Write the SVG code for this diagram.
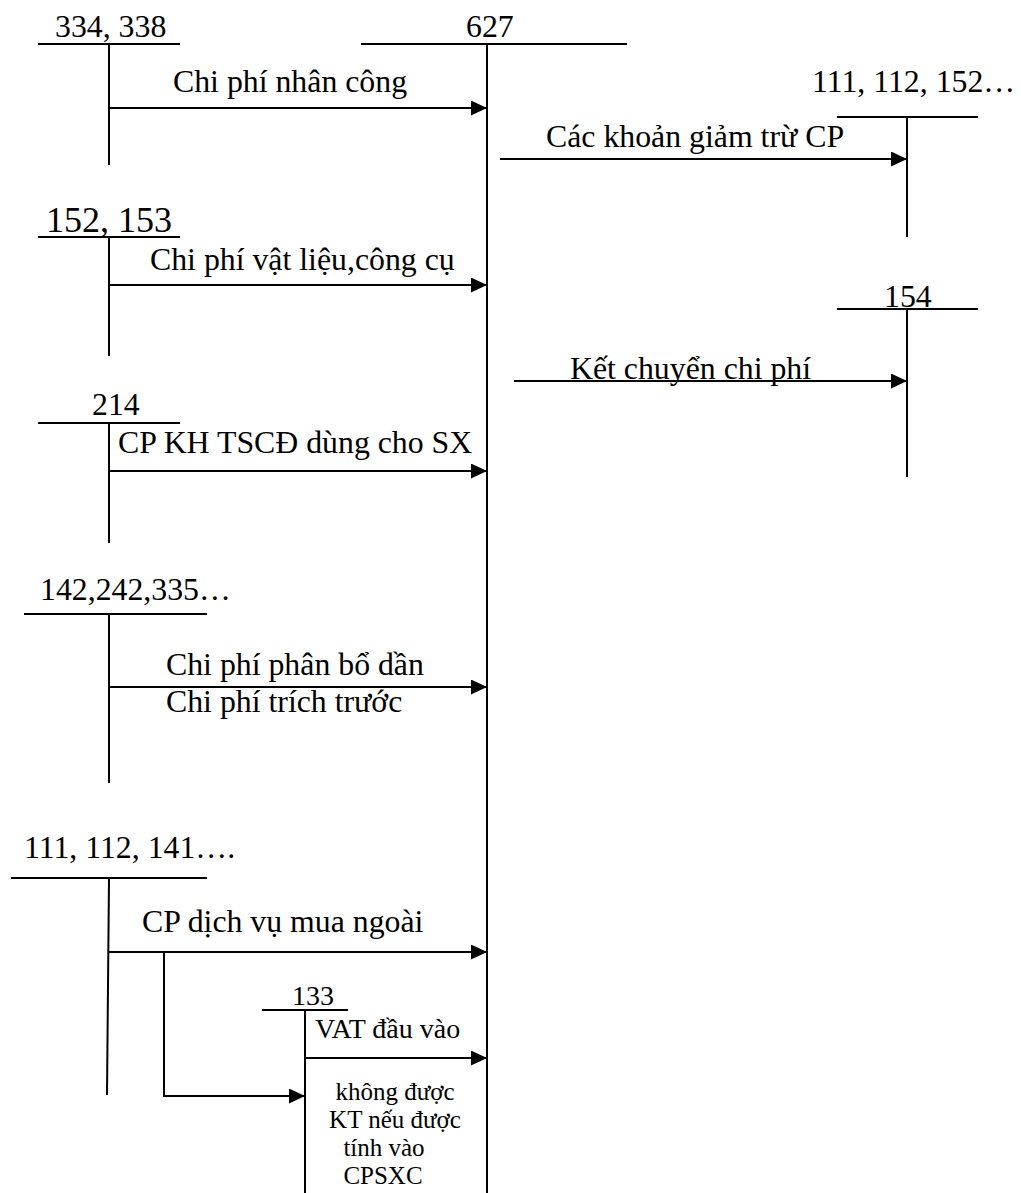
<svg xmlns="http://www.w3.org/2000/svg" width="1021" height="1193" viewBox="0 0 1021 1193">
<defs>
<style>
text{font-family:"Liberation Serif","Times New Roman",serif;font-size:31.8px;fill:#000}
.sm{font-size:28px}
.blk{font-size:25px}
.big{font-size:36px}
line,polyline{stroke:#000;stroke-width:2;fill:none}
</style>
<marker id="ah" viewBox="0 0 16 15" refX="16" refY="7.5" markerWidth="16" markerHeight="15" markerUnits="userSpaceOnUse" orient="auto">
<path d="M0,0 L16,7.5 L0,15 z" fill="#000"/>
</marker>
</defs>
<rect width="1021" height="1193" fill="#fff"/>

<g id="acc-334">
<text x="55" y="37">334, 338</text>
<line x1="38" y1="44" x2="180" y2="44"/>
<line x1="109" y1="44" x2="109" y2="165"/>
</g>
<g id="acc-627">
<text x="466" y="37">627</text>
<line x1="361" y1="44" x2="627" y2="44"/>
<line x1="487" y1="44" x2="487" y2="1193"/>
</g>
<g id="acc-111-112-152">
<text x="812" y="92">111, 112, 152…</text>
<line x1="837" y1="117" x2="978" y2="117"/>
<line x1="907" y1="117" x2="907" y2="237"/>
</g>
<g id="acc-152-153">
<text class="big" x="46" y="232">152, 153</text>
<line x1="38" y1="237" x2="180" y2="237"/>
<line x1="109" y1="237" x2="109" y2="356"/>
</g>
<g id="acc-154">
<text x="884" y="307">154</text>
<line x1="837" y1="309" x2="978" y2="309"/>
<line x1="907" y1="309" x2="907" y2="477"/>
</g>
<g id="acc-214">
<text x="92" y="415">214</text>
<line x1="38" y1="423" x2="180" y2="423"/>
<line x1="109" y1="423" x2="109" y2="543"/>
</g>
<g id="acc-142-242-335">
<text x="40" y="600">142,242,335…</text>
<line x1="24" y1="614" x2="207" y2="614"/>
<line x1="109" y1="614" x2="109" y2="783"/>
</g>
<g id="acc-111-112-141">
<text x="24" y="858">111, 112, 141….</text>
<line x1="11" y1="878" x2="207" y2="878"/>
<line x1="109" y1="878" x2="107" y2="1095"/>
</g>
<g id="acc-133">
<text class="sm" x="292" y="1005">133</text>
<line x1="262" y1="1010" x2="348" y2="1010"/>
<line x1="305" y1="1010" x2="305" y2="1193"/>
<text class="blk" x="395" y="1100" text-anchor="middle">không được</text>
<text class="blk" x="395" y="1128" text-anchor="middle">KT nếu được</text>
<text class="blk" x="384" y="1156" text-anchor="middle">tính vào</text>
<text class="blk" x="383" y="1184" text-anchor="middle">CPSXC</text>
</g>

<g id="connectors">
<line x1="109" y1="108" x2="487" y2="108" marker-end="url(#ah)"/>
<text x="173" y="92">Chi phí nhân công</text>
<line x1="500" y1="159" x2="907" y2="159" marker-end="url(#ah)"/>
<text x="546" y="147">Các khoản giảm trừ CP</text>
<line x1="109" y1="285" x2="487" y2="285" marker-end="url(#ah)"/>
<text x="150" y="270">Chi phí vật liệu,công cụ</text>
<line x1="514" y1="381" x2="907" y2="381" marker-end="url(#ah)"/>
<text x="570" y="379">Kết chuyển chi phí</text>
<line x1="109" y1="471" x2="487" y2="471" marker-end="url(#ah)"/>
<text x="118" y="453">CP KH TSCĐ dùng cho SX</text>
<line x1="109" y1="687" x2="487" y2="687" marker-end="url(#ah)"/>
<text x="166" y="675">Chi phí phân bổ dần</text>
<text x="166" y="712">Chi phí trích trước</text>
<line x1="108" y1="952" x2="487" y2="952" marker-end="url(#ah)"/>
<text x="142" y="932">CP dịch vụ mua ngoài</text>
<polyline points="164,952 164,1096 305,1096" marker-end="url(#ah)"/>
<line x1="305" y1="1058" x2="487" y2="1058" marker-end="url(#ah)"/>
<text class="sm" x="315" y="1038">VAT đầu vào</text>
</g>
</svg>
